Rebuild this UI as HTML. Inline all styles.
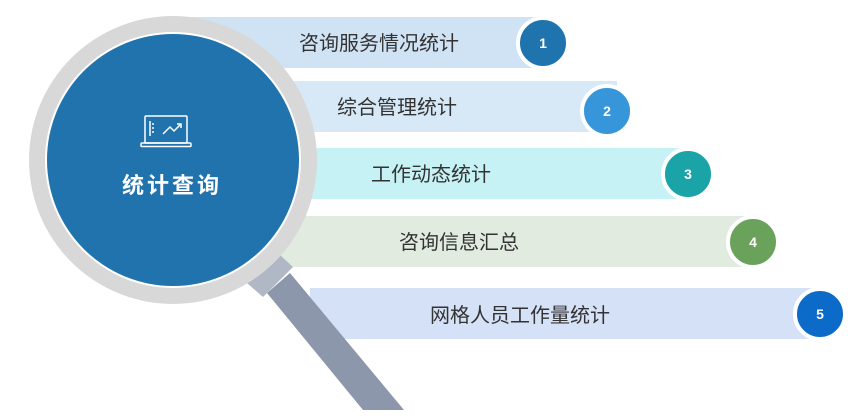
<!DOCTYPE html>
<html><head><meta charset="utf-8"><style>
body{margin:0;width:864px;height:418px;background:#fff;overflow:hidden;font-family:"Liberation Sans","Noto Sans CJK SC",sans-serif;}
</style></head><body>
<svg width="864" height="418" viewBox="0 0 864 418" xmlns="http://www.w3.org/2000/svg" style="position:absolute;left:0;top:0">
<g font-family="Liberation Sans, Noto Sans CJK SC, sans-serif">
<rect x="190" y="17" width="345" height="51" fill="#cfe3f5"/>
<rect x="190" y="81" width="427" height="51" fill="#d7e9f7"/>
<rect x="190" y="148" width="498" height="51" fill="#c6f2f5"/>
<rect x="190" y="216" width="563" height="51" fill="#e1ebe0"/>
<rect x="310" y="288" width="510" height="51" fill="#d5e1f7"/>
<g font-size="20" fill="#333" text-anchor="middle">
<text x="379" y="50">咨询服务情况统计</text>
<text x="397" y="114">综合管理统计</text>
<text x="431" y="181">工作动态统计</text>
<text x="459" y="249">咨询信息汇总</text>
<text x="520" y="322">网格人员工作量统计</text>
</g>
<g stroke="#fff" stroke-width="4">
<circle cx="543" cy="43" r="25" fill="#2074ad"/>
<circle cx="607" cy="111" r="25" fill="#3796d9"/>
<circle cx="688" cy="174" r="25" fill="#1aa4a8"/>
<circle cx="753" cy="242" r="25" fill="#6ba25b"/>
<circle cx="820" cy="314" r="25" fill="#0c6bc9"/>
</g>
<g font-size="14" font-weight="bold" fill="#fff" text-anchor="middle">
<text x="543" y="48">1</text><text x="607" y="116">2</text><text x="688" y="179">3</text><text x="753" y="247">4</text><text x="820" y="319">5</text>
</g>
<polygon points="267,293 290,273 404,410 363,410" fill="#8c97ab"/>
<polygon points="247,283 280,255 293,267 263,297" fill="#b0b8c6"/>
<circle cx="173" cy="160" r="144" fill="#d8d8d8"/>
<circle cx="173" cy="160" r="128" fill="#fff"/>
<circle cx="173" cy="160" r="126" fill="#2073ad"/>
<g stroke="#fff" stroke-width="1.5" fill="none">
<rect x="145" y="116" width="42" height="27" rx="1"/>
<rect x="141" y="143" width="50" height="3.5" rx="1"/>
<polyline points="163,134 170,127 174,131 181,124"/>
<polyline points="177,124 181,124 181,128"/>
<line x1="150" y1="121" x2="150" y2="136"/>
<line x1="152" y1="124" x2="154" y2="124"/><line x1="152" y1="128" x2="154" y2="128"/><line x1="152" y1="132" x2="154" y2="132"/>
</g>
<text x="172" y="193" font-size="22" font-weight="bold" fill="#fff" text-anchor="middle" letter-spacing="3">统计查询</text>
</g>
</svg>
</body></html>
